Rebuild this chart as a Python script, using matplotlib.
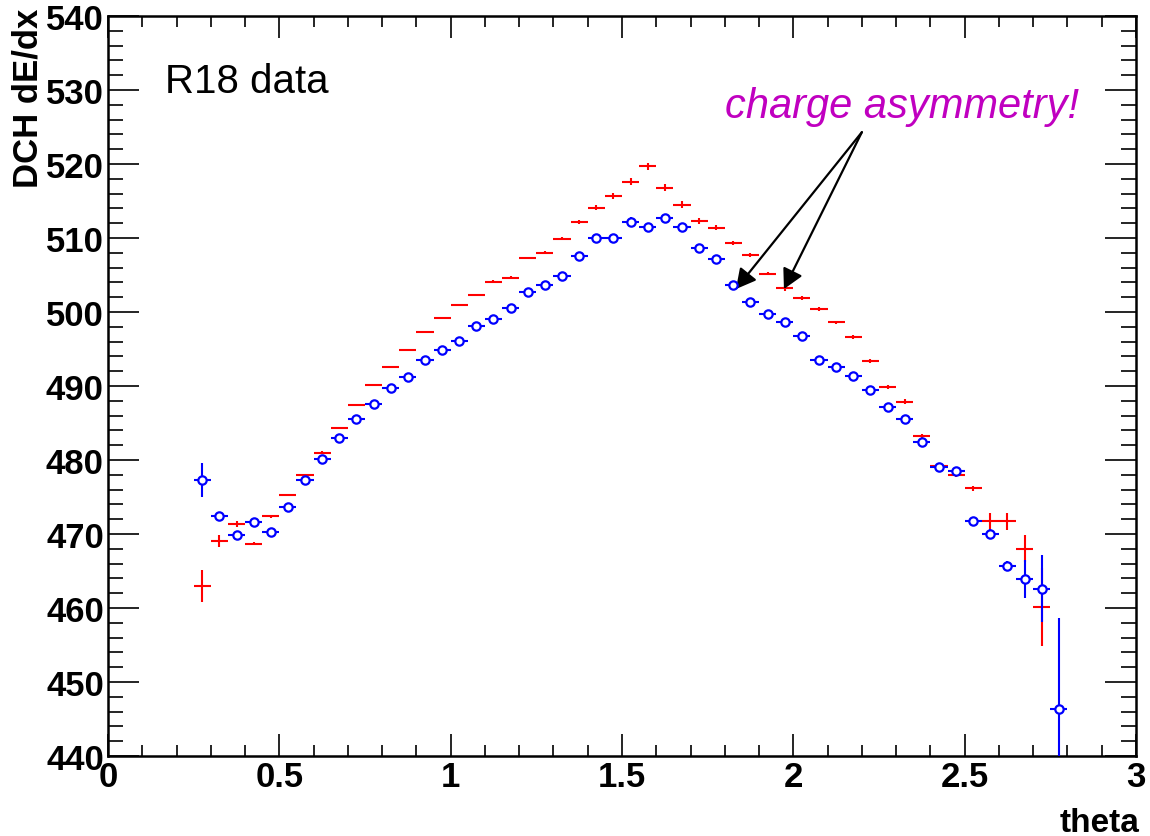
import numpy as np
import matplotlib
matplotlib.use("Agg")
import matplotlib.pyplot as plt
from matplotlib.ticker import MultipleLocator

# theta bin centres (bin width 0.05)
theta_pos = [0.275, 0.325, 0.375, 0.425, 0.475, 0.525, 0.575, 0.625, 0.675, 0.725,
             0.775, 0.825, 0.875, 0.925, 0.975, 1.025, 1.075, 1.125, 1.175, 1.225,
             1.275, 1.325, 1.375, 1.425, 1.475, 1.525, 1.575, 1.625, 1.675, 1.725,
             1.775, 1.825, 1.875, 1.925, 1.975, 2.025, 2.075, 2.125, 2.175, 2.225,
             2.275, 2.325, 2.375, 2.425, 2.475, 2.525, 2.575, 2.625, 2.675, 2.725]
theta_neg = theta_pos + [2.775]
bin_half_width = 0.025

# mean DCH dE/dx per theta bin, positive tracks (red)
dedx_pos = [463.0, 469.0, 471.3, 468.7, 472.4, 475.3, 478.0, 481.0, 484.3, 487.4,
            490.1, 492.6, 494.9, 497.3, 499.2, 500.9, 502.3, 504.1, 504.6, 507.3,
            508.0, 509.9, 512.2, 514.1, 515.7, 517.6, 519.7, 516.8, 514.5, 512.3,
            511.4, 509.3, 507.7, 505.2, 503.2, 501.9, 500.4, 498.6, 496.6, 493.4,
            489.9, 487.9, 483.2, 479.2, 478.0, 476.2, 471.7, 471.7, 468.0, 460.1]
err_pos = [2.2, 0.8, 0.4, 0.25, 0.2, 0.15, 0.15, 0.15, 0.15, 0.15,
           0.15, 0.15, 0.15, 0.15, 0.15, 0.15, 0.2, 0.2, 0.2, 0.2,
           0.2, 0.2, 0.3, 0.35, 0.4, 0.45, 0.5, 0.5, 0.45, 0.4,
           0.35, 0.3, 0.25, 0.25, 0.3, 0.3, 0.3, 0.25, 0.25, 0.25,
           0.3, 0.3, 0.35, 0.3, 0.3, 0.35, 1.2, 1.2, 1.8, 5.3]

# mean DCH dE/dx per theta bin, negative tracks (blue)
dedx_neg = [477.3, 472.5, 469.8, 471.6, 470.3, 473.7, 477.3, 480.2, 483.0, 485.5,
            487.6, 489.7, 491.2, 493.5, 494.8, 496.1, 498.1, 499.0, 500.5, 502.7,
            503.6, 504.9, 507.6, 510.0, 510.0, 512.2, 511.5, 512.7, 511.5, 508.7,
            507.1, 503.6, 501.4, 499.7, 498.6, 496.8, 493.5, 492.6, 491.3, 489.4,
            487.2, 485.6, 482.5, 479.1, 478.5, 471.7, 470.0, 465.7, 463.9, 462.6,
            446.4]
err_neg = [2.35, 0.3, 0.3, 0.3, 0.3, 0.3, 0.3, 0.3, 0.3, 0.3,
           0.3, 0.3, 0.3, 0.3, 0.3, 0.3, 0.3, 0.3, 0.3, 0.3,
           0.3, 0.3, 0.3, 0.3, 0.3, 0.7, 0.3, 0.3, 0.3, 0.3,
           0.3, 0.3, 0.3, 0.5, 0.3, 0.3, 0.3, 0.3, 0.3, 0.3,
           0.3, 0.3, 0.3, 0.3, 0.6, 0.3, 0.7, 0.6, 2.6, 4.5,
           12.2]

FONT = "Liberation Sans"
plt.rcParams["font.family"] = [FONT, "DejaVu Sans"]

fig = plt.figure(figsize=(11.5, 8.37), dpi=100)
ax = fig.add_axes([108 / 1150, 1 - 757 / 837, 1028 / 1150, 740 / 837])

ax.errorbar(theta_pos, dedx_pos, xerr=bin_half_width, yerr=err_pos, fmt="none",
            ecolor="#ff0000", elinewidth=1.5, capsize=0, zorder=2)
ax.errorbar(theta_neg, dedx_neg, xerr=bin_half_width, yerr=err_neg, fmt="o",
            color="#0000ff", ecolor="#0000ff", elinewidth=1.5, capsize=0,
            markersize=6, markerfacecolor="white", markeredgecolor="#0000ff",
            markeredgewidth=1.6, zorder=3)

ax.set_xlim(0, 3)
ax.set_ylim(440, 540)
ax.xaxis.set_major_locator(MultipleLocator(0.5))
ax.xaxis.set_minor_locator(MultipleLocator(0.1))
ax.yaxis.set_major_locator(MultipleLocator(10))
ax.yaxis.set_minor_locator(MultipleLocator(2))
ax.set_xticks([0, 0.5, 1, 1.5, 2, 2.5, 3])
ax.set_xticklabels(["0", "0.5", "1", "1.5", "2", "2.5", "3"])

ax.tick_params(axis="both", which="both", direction="in", top=True, right=True,
               width=1.2, color="black")
ax.tick_params(axis="x", which="major", length=16, pad=3)
ax.tick_params(axis="x", which="minor", length=8)
ax.tick_params(axis="y", which="major", length=22, pad=3)
ax.tick_params(axis="y", which="minor", length=11)
for lab in ax.get_xticklabels():
    lab.set_fontsize(25)
    lab.set_fontweight("bold")
for lab in ax.get_yticklabels():
    lab.set_fontsize(25)
    lab.set_fontweight("bold")
for sp in ax.spines.values():
    sp.set_linewidth(1.8)

fig.text(0.024, 0.99, "DCH dE/dx", rotation=90, ha="center", va="top",
         fontsize=25, fontweight="bold")
fig.text(0.991, 1 - 832 / 837, "theta", ha="right", va="baseline",
         fontsize=24, fontweight="bold")

ax.text((165 - 108) / 1028, 1 - (93 - 17) / 740,
        "R18 data", transform=ax.transAxes, ha="left", va="baseline", fontsize=29)
ax.text((725 - 108) / 1028, 1 - (118 - 17) / 740, "charge asymmetry!",
        transform=ax.transAxes, ha="left", va="baseline", fontsize=30,
        style="italic", color="#c000c0")

arrow_tail = (2.200, 524.3)
for head in [(1.8325, 503.1), (1.9726, 503.1)]:
    ax.annotate("", xy=head, xytext=arrow_tail,
                arrowprops=dict(arrowstyle="-|>,head_length=0.6,head_width=0.32",
                                mutation_scale=20, color="black", lw=1.6,
                                shrinkA=0, shrinkB=0))

fig.savefig("out.png", dpi=100)
